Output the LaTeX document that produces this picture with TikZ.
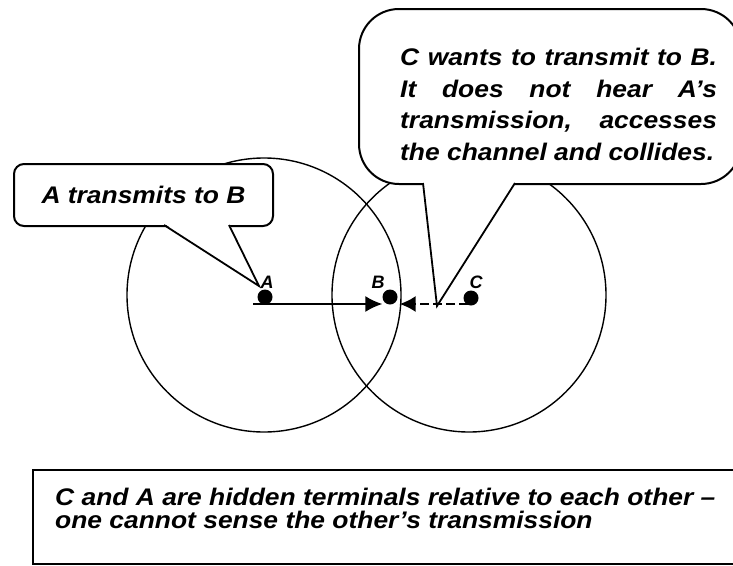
\documentclass[tikz,border=0pt]{standalone}
\usepackage{fontspec}
\setmainfont{Liberation Sans}
\usepackage{graphicx}
\usetikzlibrary{arrows.meta}
\newcommand\hs[1]{\scalebox{1.1}[1]{#1}}
\begin{document}
\begin{tikzpicture}[x=1pt,y=-1pt,
  txt/.style={font=\fontsize{24}{28}\selectfont\bfseries\itshape, inner sep=0pt, anchor=base west},
  lbl/.style={font=\fontsize{18}{20}\selectfont\bfseries\itshape, inner sep=0pt, anchor=base},
  stationdot/.style={circle, fill=black, inner sep=0pt, minimum size=15pt},
  calloutbox/.style={draw=black, fill=white, line width=2pt, inner sep=0pt},
  rangecirc/.style={circle, draw=black, line width=1.4pt, inner sep=0pt, minimum size=274pt},
  ptrline/.style={line width=1.8pt, line join=miter},
  linkline/.style={line width=1.6pt},
]
\useasboundingbox (0,0) rectangle (733,565);
\clip (0,0) rectangle (733,565);
\fill[white] (0,0) rectangle (733,565);

% ranges
\node[rangecirc] (rA) at (264,295) {};
\node[rangecirc] (rC) at (469,295) {};

% left callout
\node[calloutbox, rounded corners=10pt, anchor=north west, minimum width=259pt, minimum height=62pt,
      font=\fontsize{24}{28}\selectfont\bfseries\itshape] (LC) at (13,163) {\hs{A transmits to B}};
\coordinate (lp1) at (164,225);
\coordinate (lp2) at (229,225);
\coordinate (lt) at (259,286);
\fill[white] ([yshift=1.5pt]lp1) -- (lt) -- ([yshift=1.5pt]lp2) -- cycle;
\draw[ptrline] (lp1) -- (lt) -- (lp2);

% right callout
\node[calloutbox, rounded corners=40pt, anchor=north west, minimum width=382pt, minimum height=175pt] (RC) at (358,8) {};
\coordinate (rp1) at (423,183);
\coordinate (rp2) at (515,183);
\coordinate (rt) at (437,306);
\fill[white] ([yshift=1.5pt]rp1) -- (rt) -- ([yshift=1.5pt]rp2) -- cycle;
\draw[ptrline] (rp1) -- (rt) -- (rp2);
\node[txt] (r1) at (400,65) {\hs{\makebox[288pt][s]{C wants to transmit to B.}}};
\node[txt] (r2) at (400,97) {\hs{\makebox[288pt][s]{It does not hear A’s}}};
\node[txt] (r3) at (400,128) {\hs{\makebox[288pt][s]{transmission, accesses}}};
\node[txt] (r4) at (400,160) {\hs{the channel and collides.}};

% stations
\node[stationdot] (A) at (265,297) {};
\node[stationdot] (B) at (390,297) {};
\node[stationdot] (C) at (471,298) {};
\node[lbl] (lA) at (267,288) {A};
\node[lbl] (lB) at (378,288) {B};
\node[lbl] (lC) at (476,288) {C};

\draw[linkline, -{Latex[length=17pt,width=16pt]}] ([xshift=-12pt,yshift=-7pt]A.center) -- ([yshift=-7pt]B.west);
\draw[linkline, dash pattern=on 9pt off 4pt, -{Latex[length=16pt,width=16pt]}] ([xshift=-3pt,yshift=-6pt]C.center) -- ([xshift=2pt,yshift=-7pt]B.east);

% bottom note
\node[draw=black, line width=2pt, anchor=north west, minimum width=713pt, minimum height=94pt, inner sep=0pt] (note) at (32,469) {};
\node[txt] (n1) at (55,505) {\hs{C and A are hidden terminals relative to each other –}};
\node[txt] (n2) at (55,528) {\hs{one cannot sense the other’s transmission}};
\end{tikzpicture}
\end{document}
